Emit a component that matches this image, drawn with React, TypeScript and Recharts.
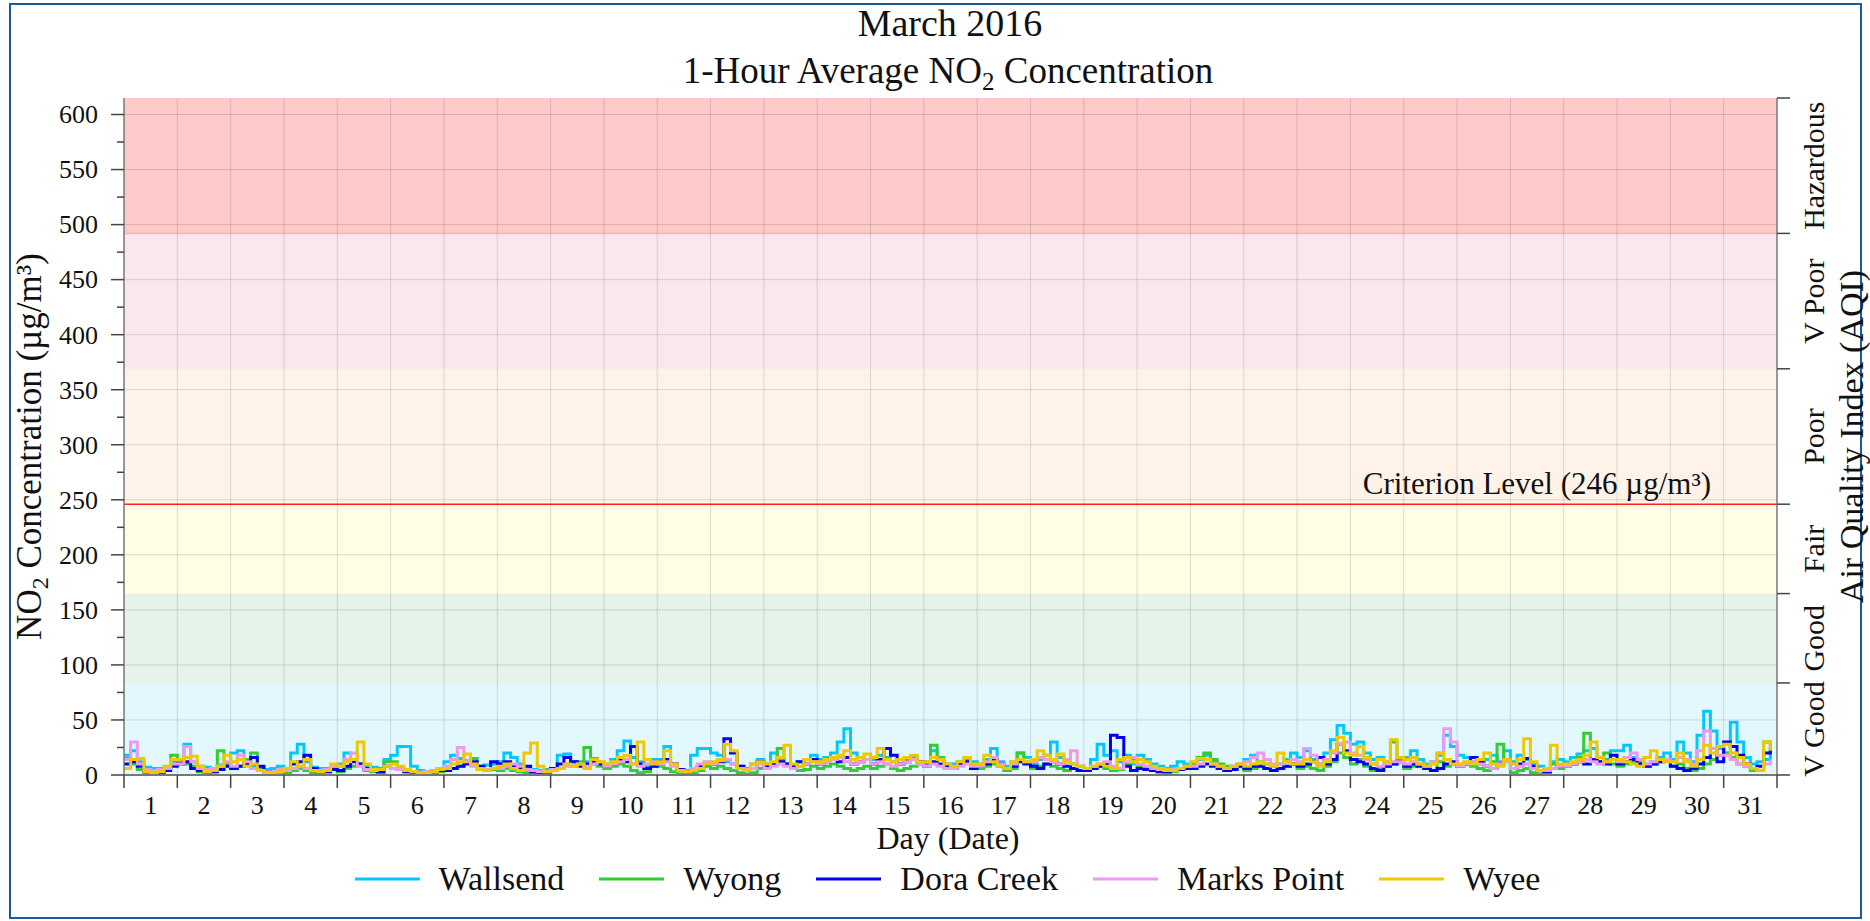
import React from "react";
import {
  ComposedChart,
  Line,
  XAxis,
  YAxis,
  ReferenceArea,
  ReferenceLine,
  Legend,
} from "recharts";

const W = 1870;
const H = 921;
const PLOT_LEFT = 124;
const PLOT_RIGHT = 1777;
const PLOT_TOP = 98;
const PLOT_BOTTOM = 775;
const DAY_W = (PLOT_RIGHT - PLOT_LEFT) / 31;
const FONT = '"Liberation Serif", "DejaVu Serif", serif';

// 3-hourly readings (8 per day), March 1..31
const wallsend = [
  18, 22, 12, 7, 6, 6, 7, 12, 12, 28, 12, 8, 7, 6, 9, 10,
  20, 22, 14, 8, 6, 5, 6, 8, 5, 20, 28, 12, 7, 6, 6, 8,
  10, 20, 14, 10, 8, 7, 6, 14, 18, 26, 26, 8, 4, 3, 4, 6,
  12, 18, 15, 13, 10, 8, 9, 10, 12, 20, 16, 10, 6, 5, 4, 5,
  6, 18, 19, 12, 10, 12, 15, 10, 10, 14, 22, 31, 16, 12, 8, 14,
  14, 26, 10, 5, 4, 18, 24, 24, 20, 18, 12, 10, 8, 6, 10, 14,
  10, 20, 14, 10, 8, 12, 14, 18, 14, 16, 20, 30, 42, 20, 16, 14,
  14, 18, 16, 12, 10, 14, 16, 12, 12, 22, 14, 10, 10, 12, 14, 12,
  10, 14, 24, 12, 8, 12, 20, 16, 10, 14, 18, 30, 16, 12, 10, 8,
  6, 14, 28, 18, 22, 12, 18, 10, 18, 14, 10, 8, 6, 8, 12, 10,
  10, 14, 18, 12, 8, 6, 8, 10, 14, 18, 12, 10, 8, 10, 14, 20,
  16, 22, 14, 10, 20, 32, 45, 38, 28, 30, 20, 14, 16, 12, 10, 14,
  16, 22, 14, 10, 12, 18, 36, 26, 18, 16, 12, 10, 14, 18, 12, 22,
  12, 18, 14, 10, 8, 6, 12, 14, 12, 16, 19, 22, 24, 16, 14, 22,
  22, 27, 16, 12, 10, 12, 16, 20, 14, 30, 20, 12, 36, 58, 40, 24,
  20, 48, 30, 16, 10, 12, 14, 26,
];
const wyong = [
  15, 10, 5, 2, 1, 2, 5, 18, 12, 10, 8, 3, 2, 3, 22, 10,
  6, 8, 14, 20, 6, 2, 2, 3, 2, 4, 6, 4, 2, 2, 3, 6,
  3, 6, 8, 10, 4, 3, 2, 12, 12, 6, 3, 1, 0, 1, 2, 3,
  4, 6, 8, 12, 15, 6, 4, 5, 4, 6, 4, 3, 2, 1, 1, 2,
  4, 6, 10, 8, 12, 25, 10, 8, 6, 8, 10, 8, 4, 2, 3, 8,
  8, 6, 3, 1, 1, 2, 4, 8, 6, 8, 6, 4, 2, 1, 2, 6,
  6, 10, 24, 10, 6, 4, 5, 8, 6, 8, 10, 8, 6, 4, 6, 8,
  6, 8, 10, 6, 4, 6, 8, 10, 10, 27, 16, 8, 6, 10, 12, 10,
  6, 8, 10, 8, 4, 6, 20, 12, 6, 8, 10, 8, 6, 4, 6, 4,
  4, 6, 8, 6, 4, 5, 10, 14, 8, 6, 4, 3, 2, 3, 5, 8,
  10, 16, 20, 14, 10, 8, 6, 8, 4, 6, 8, 6, 4, 6, 8, 10,
  6, 8, 6, 4, 8, 12, 20, 16, 10, 14, 8, 4, 6, 8, 30, 14,
  6, 8, 10, 6, 4, 12, 8, 10, 8, 10, 8, 6, 4, 12, 28, 14,
  2, 4, 6, 2, 1, 1, 10, 6, 8, 10, 16, 38, 14, 12, 20, 10,
  8, 10, 12, 10, 8, 10, 12, 14, 8, 10, 6, 4, 6, 10, 14, 18,
  20, 16, 10, 8, 4, 4, 30, 26,
];
const doraCreek = [
  10, 12, 8, 3, 2, 2, 4, 8, 10, 12, 6, 4, 3, 3, 5, 8,
  6, 8, 10, 16, 8, 3, 2, 3, 4, 10, 12, 18, 6, 3, 3, 5,
  4, 8, 12, 10, 6, 4, 3, 8, 6, 5, 3, 2, 1, 2, 3, 4,
  4, 6, 8, 10, 12, 8, 5, 12, 10, 12, 8, 6, 8, 3, 2, 2,
  6, 10, 16, 12, 8, 10, 12, 10, 8, 10, 14, 12, 26, 10, 6, 8,
  12, 14, 10, 5, 3, 4, 8, 10, 10, 12, 33, 20, 8, 4, 6, 12,
  8, 10, 12, 10, 8, 12, 10, 14, 10, 12, 14, 12, 16, 10, 12, 14,
  10, 14, 24, 18, 10, 12, 14, 12, 8, 12, 10, 8, 6, 10, 12, 6,
  8, 10, 14, 10, 6, 8, 12, 10, 8, 6, 10, 12, 10, 8, 6, 4,
  4, 6, 8, 10, 36, 34, 8, 4, 6, 5, 4, 3, 3, 4, 5, 6,
  6, 8, 10, 8, 6, 4, 5, 8, 6, 8, 8, 6, 4, 6, 8, 10,
  8, 10, 12, 16, 10, 14, 28, 22, 14, 12, 10, 6, 4, 8, 10, 12,
  8, 10, 8, 6, 4, 6, 10, 12, 8, 10, 16, 12, 8, 6, 10, 14,
  6, 10, 15, 8, 4, 3, 6, 8, 8, 10, 12, 10, 14, 12, 10, 18,
  10, 12, 14, 10, 8, 10, 12, 14, 8, 6, 4, 6, 10, 16, 24, 12,
  30, 26, 18, 10, 6, 8, 20, 24,
];
const marksPoint = [
  14, 30, 10, 5, 4, 5, 6, 10, 10, 26, 12, 6, 5, 6, 8, 12,
  8, 18, 12, 6, 4, 3, 3, 5, 4, 6, 8, 6, 4, 4, 5, 8,
  8, 14, 20, 8, 5, 4, 5, 8, 6, 5, 4, 3, 2, 3, 4, 6,
  8, 14, 25, 12, 8, 6, 5, 6, 6, 8, 10, 8, 5, 4, 3, 3,
  5, 6, 8, 8, 10, 8, 10, 12, 8, 10, 12, 14, 10, 8, 10, 12,
  10, 12, 8, 4, 3, 6, 10, 12, 10, 13, 14, 10, 6, 5, 6, 10,
  6, 8, 10, 8, 6, 8, 10, 12, 10, 12, 14, 16, 12, 10, 12, 14,
  10, 12, 10, 8, 10, 12, 14, 10, 8, 10, 8, 6, 6, 8, 10, 8,
  8, 12, 16, 10, 6, 10, 14, 12, 12, 16, 14, 12, 10, 14, 22, 8,
  6, 8, 10, 12, 8, 6, 12, 16, 10, 8, 6, 5, 4, 5, 6, 8,
  8, 10, 14, 10, 8, 6, 8, 10, 12, 16, 20, 14, 10, 10, 12, 14,
  12, 24, 18, 10, 14, 20, 28, 30, 20, 18, 14, 10, 8, 10, 12, 12,
  10, 12, 10, 8, 12, 20, 42, 30, 8, 10, 12, 10, 8, 6, 10, 12,
  6, 8, 10, 6, 4, 4, 6, 8, 8, 10, 12, 14, 12, 10, 12, 14,
  12, 16, 20, 14, 10, 12, 14, 14, 12, 16, 14, 10, 22, 40, 24, 18,
  18, 14, 10, 8, 6, 4, 10, 14,
];
const wyee = [
  6, 14, 15, 3, 2, 3, 8, 14, 14, 16, 17, 8, 3, 4, 8, 18,
  12, 14, 8, 10, 4, 2, 2, 3, 6, 12, 8, 14, 4, 3, 4, 10,
  8, 12, 14, 30, 10, 5, 5, 8, 10, 8, 5, 3, 2, 2, 3, 5,
  6, 10, 12, 19, 10, 5, 4, 6, 8, 10, 6, 4, 20, 29, 8, 3,
  4, 6, 10, 8, 10, 6, 14, 12, 10, 12, 16, 18, 10, 30, 14, 10,
  12, 22, 10, 4, 3, 4, 6, 10, 12, 14, 28, 22, 6, 4, 10, 12,
  10, 12, 16, 27, 10, 8, 14, 12, 12, 14, 16, 18, 22, 14, 16, 19,
  16, 24, 14, 12, 14, 16, 18, 12, 12, 16, 14, 10, 8, 12, 16, 10,
  10, 18, 12, 8, 6, 12, 14, 12, 14, 22, 18, 14, 19, 12, 10, 8,
  6, 8, 10, 8, 6, 14, 16, 12, 14, 12, 8, 6, 5, 4, 6, 8,
  12, 15, 14, 10, 8, 6, 8, 10, 8, 10, 12, 10, 8, 20, 12, 10,
  10, 14, 12, 8, 12, 22, 34, 20, 18, 26, 16, 10, 14, 12, 32, 16,
  14, 16, 10, 8, 10, 20, 14, 10, 10, 12, 10, 14, 20, 10, 8, 14,
  10, 14, 33, 12, 4, 6, 27, 10, 10, 12, 14, 18, 30, 16, 12, 14,
  14, 12, 10, 8, 16, 22, 14, 12, 12, 20, 12, 8, 14, 27, 20, 26,
  28, 20, 16, 10, 6, 4, 30, 22,
];

const stations = ["Wallsend", "Wyong", "Dora Creek", "Marks Point", "Wyee"];
const stationColors = ["#00c8ff", "#33cc33", "#0000f0", "#ee99ee", "#eec800"];
const seriesValues = [wallsend, wyong, doraCreek, marksPoint, wyee];

const dayTicks = Array.from({ length: 32 }, (_, i) => i); // day boundaries 0..31
const yMajor = [0, 50, 100, 150, 200, 250, 300, 350, 400, 450, 500, 550, 600];
const yMinor = [25, 75, 125, 175, 225, 275, 325, 375, 425, 475, 525, 575];

const aqiBounds = [0, 83.6, 164.8, 246, 369, 492, 615];
const aqiNames = ["V Good", "Good", "Fair", "Poor", "V Poor", "Hazardous"];
const aqiColors = ["#e3f8fd", "#e5f3e8", "#fefee4", "#fff3e9", "#f9e6ef", "#fdc9c9"];
const criterion = 246;

const rows = wallsend.map((_, i) => {
  const row: any = { t: (i * 3) / 24 };
  stations.forEach((s, k) => (row[s] = seriesValues[k][i]));
  return row;
});

const aqiMids = aqiNames.map((_, i) => (aqiBounds[i] + aqiBounds[i + 1]) / 2);
const rightTicks = [...aqiBounds, ...aqiMids].sort((a, b) => a - b);

const XTick = ({ x, payload }: any) => {
  if (payload.value >= 31) return <g />;
  return (
    <text
      x={x + DAY_W / 2}
      y={PLOT_BOTTOM + 39}
      textAnchor="middle"
      fontSize={26}
      fontFamily={FONT}
      fill="#111"
    >
      {payload.value + 1}
    </text>
  );
};

const LeftTick = ({ y, payload }: any) => {
  const v = payload.value;
  const major = v % 50 === 0;
  return (
    <g>
      <line x1={PLOT_LEFT - (major ? 13 : 7)} x2={PLOT_LEFT} y1={y} y2={y} stroke="#444" strokeWidth={1.5} />
      {major && (
        <text x={PLOT_LEFT - 26} y={y} dy="0.34em" textAnchor="end" fontSize={26} fontFamily={FONT} fill="#111">
          {v}
        </text>
      )}
    </g>
  );
};

const RightTick = ({ y, payload }: any) => {
  const v = payload.value;
  const idx = aqiMids.indexOf(v);
  if (idx < 0) {
    return <line x1={PLOT_RIGHT} x2={PLOT_RIGHT + 13} y1={y} y2={y} stroke="#444" strokeWidth={1.5} />;
  }
  const cx = PLOT_RIGHT + 37;
  return (
    <text
      x={cx}
      y={y}
      dy="0.34em"
      textAnchor="middle"
      fontSize={30}
      fontFamily={FONT}
      fill="#111"
      transform={`rotate(-90, ${cx}, ${y})`}
    >
      {aqiNames[idx]}
    </text>
  );
};

const renderLegend = () => (
  <div
    style={{
      display: "flex",
      justifyContent: "center",
      alignItems: "center",
      height: 46,
      paddingLeft: 60,
      fontFamily: FONT,
      fontSize: 34,
      color: "#111",
    }}
  >
    {stations.map((s, i) => (
      <div key={s} style={{ display: "flex", alignItems: "center", marginRight: 35 }}>
        <svg width={65} height={10} style={{ marginRight: 19 }}>
          <line x1={0} x2={65} y1={5} y2={5} stroke={stationColors[i]} strokeWidth={2.8} />
        </svg>
        <span>{s}</span>
      </div>
    ))}
  </div>
);

const CriterionLabel = ({ viewBox }: any) => (
  <text x={PLOT_RIGHT - 66} y={viewBox.y - 10} textAnchor="end" fontSize={31} fontFamily={FONT} fill="#111">
    Criterion Level (246 µg/m³)
  </text>
);

export default function App() {
  const midY = (PLOT_TOP + PLOT_BOTTOM) / 2;
  const yTitleY = midY + 10;
  return (
    <div style={{ position: "absolute", left: 0, top: 0, width: W, height: H, background: "#fff" }}>
      <ComposedChart
        width={W}
        height={H}
        data={rows}
        margin={{ top: PLOT_TOP, right: 0, bottom: 60, left: 0 }}
      >
        {aqiNames.map((n, i) => (
          <ReferenceArea
            key={n}
            yAxisId="left"
            y1={aqiBounds[i]}
            y2={aqiBounds[i + 1]}
            fill={aqiColors[i]}
            fillOpacity={1}
            stroke="none"
          />
        ))}
        <ReferenceLine yAxisId="left" y={aqiBounds[5]} stroke="#f4a0a8" strokeOpacity={0.7} strokeWidth={1.5} />
        {yMajor.slice(1).map((v) => (
          <ReferenceLine key={"h" + v} yAxisId="left" y={v} stroke="#000" strokeOpacity={0.13} strokeWidth={1} />
        ))}
        {dayTicks.slice(1, 31).map((d) => (
          <ReferenceLine key={"v" + d} yAxisId="left" x={d} stroke="#000" strokeOpacity={0.13} strokeWidth={1} />
        ))}
        <ReferenceLine
          yAxisId="left"
          y={criterion}
          stroke="#ff2020"
          strokeWidth={1.5}
          label={<CriterionLabel />}
        />
        <XAxis
          dataKey="t"
          type="number"
          domain={[0, 31]}
          ticks={dayTicks}
          interval={0}
          height={86}
          tickSize={13}
          tick={<XTick />}
          tickLine={{ stroke: "#444", strokeWidth: 1.5 }}
          axisLine={{ stroke: "#777", strokeWidth: 2 }}
          allowDataOverflow
        />
        <YAxis
          yAxisId="left"
          domain={[0, 615]}
          ticks={[...yMajor, ...yMinor].sort((a, b) => a - b)}
          interval={0}
          width={PLOT_LEFT}
          tickLine={false}
          tick={<LeftTick />}
          axisLine={{ stroke: "#777", strokeWidth: 1.5 }}
          allowDataOverflow
        />
        <YAxis
          yAxisId="right"
          orientation="right"
          domain={[0, 615]}
          ticks={rightTicks}
          interval={0}
          width={W - PLOT_RIGHT}
          tickLine={false}
          tick={<RightTick />}
          axisLine={{ stroke: "#777", strokeWidth: 1.5 }}
          allowDataOverflow
        />
        {stations.map((s, i) => (
          <Line
            key={s}
            yAxisId="left"
            dataKey={s}
            type="stepAfter"
            stroke={stationColors[i]}
            strokeWidth={3}
            dot={false}
            isAnimationActive={false}
          />
        ))}
        <Legend
          layout="horizontal"
          verticalAlign="middle"
          align="center"
          wrapperStyle={{ position: "absolute", left: 0, top: 856, width: W, height: 46 }}
          content={renderLegend}
        />
      </ComposedChart>
      <svg
        width={W}
        height={H}
        style={{ position: "absolute", left: 0, top: 0, pointerEvents: "none" }}
        fontFamily={FONT}
        fill="#111"
      >
        <rect x={10} y={4} width={1851} height={914} fill="none" stroke="#1b5a96" strokeWidth={2} />
        <text x={950} y={36} textAnchor="middle" fontSize={38}>
          March 2016
        </text>
        <text x={948} y={83} textAnchor="middle" fontSize={37}>
          1-Hour Average NO<tspan fontSize={25} dy={7}>2</tspan>
          <tspan dy={-7}> Concentration</tspan>
        </text>
        <text x={948} y={849} textAnchor="middle" fontSize={32}>
          Day (Date)
        </text>
        <text
          x={29}
          y={yTitleY}
          dy="0.34em"
          textAnchor="middle"
          fontSize={35}
          transform={`rotate(-90, 29, ${yTitleY})`}
        >
          NO<tspan fontSize={24} dy={7}>2</tspan>
          <tspan dy={-7}> Concentration (µg/m³)</tspan>
        </text>
        <text
          x={1851}
          y={midY}
          dy="0.34em"
          textAnchor="middle"
          fontSize={34}
          transform={`rotate(-90, 1851, ${midY})`}
        >
          Air Quality Index (AQI)
        </text>
      </svg>
    </div>
  );
}
